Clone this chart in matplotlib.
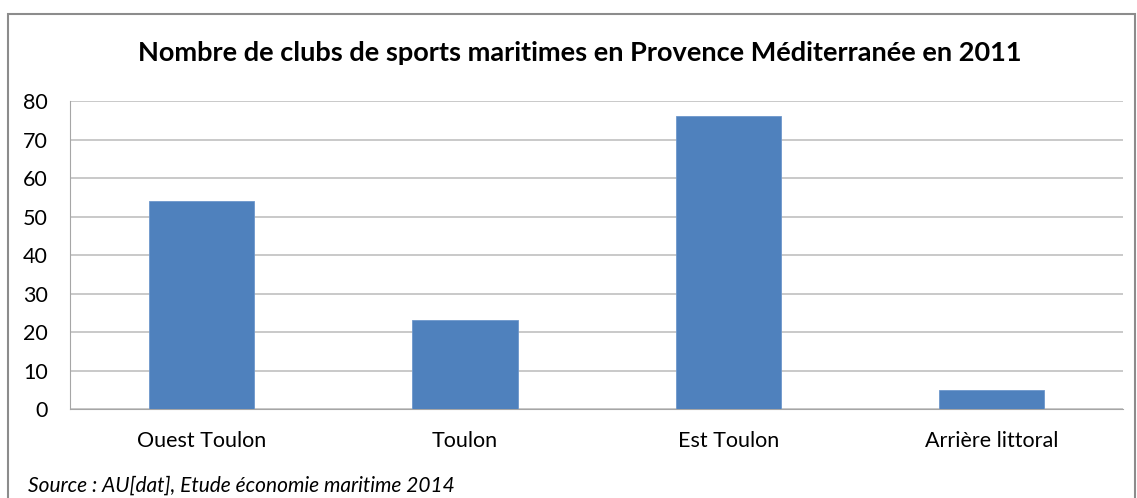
import matplotlib.pyplot as plt
from matplotlib.patches import Rectangle

# data
categories = ["Ouest Toulon", "Toulon", "Est Toulon", "Arrière littoral"]
clubs = [54, 23, 76, 5]
y_ticks = [0, 10, 20, 30, 40, 50, 60, 70, 80]

plt.rcParams['font.family'] = ['Lato', 'DejaVu Sans']

fig = plt.figure(figsize=(11.37, 4.98), dpi=100)
ax = fig.add_axes([0.0616, 0.1787, 0.9261, 0.6183])

x = range(len(categories))
ax.bar(x, clubs, width=0.4, color="#4f81bd", edgecolor="#6d97cc", linewidth=0.6, zorder=3)

ax.set_xlim(-0.5, len(categories) - 0.5)
ax.set_ylim(0, 80)
ax.set_yticks(y_ticks)
ax.set_xticks(list(x))
ax.set_xticklabels(categories, fontsize=15.5)
ax.tick_params(axis='y', labelsize=15.5, length=0, pad=16)
ax.tick_params(axis='x', length=0, pad=16)
ax.grid(axis='y', color="#c0c0c0", linewidth=1.2, zorder=0)
for s in ['top', 'right']:
    ax.spines[s].set_visible(False)
ax.spines['left'].set_color("#a6a6a6")
ax.spines['bottom'].set_color("#a6a6a6")

fig.text(0.51, 0.893, "Nombre de clubs de sports maritimes en Provence Méditerranée en 2011",
         ha='center', va='center', fontsize=19.5, fontweight='bold')
fig.text(0.025, 0.004, "Source : AU[dat], Etude économie maritime 2014",
         ha='left', va='bottom', fontsize=15, style='italic')

# outer frame
fig.patches.append(Rectangle((8 / 1137, -0.05), (1135 - 8) / 1137, 1.05 - 14 / 498,
                             transform=fig.transFigure, fill=False,
                             edgecolor="#8c8c8c", linewidth=1.5))

fig.savefig("out.png", dpi=100)
